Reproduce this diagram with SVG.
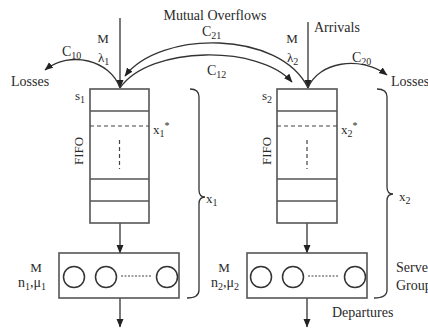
<svg xmlns="http://www.w3.org/2000/svg" width="428" height="328" viewBox="0 0 428 328">
<style>
text{font-family:"Liberation Serif","Times New Roman",serif;fill:#2a2a2a;font-size:14px}
.sm{font-size:13px}
.sub{font-size:10px}
.ln{stroke:#333;stroke-width:1.3;fill:none}
.box{stroke:#555;stroke-width:1.6;fill:#fff}
.dash{stroke:#444;stroke-width:1.2;stroke-dasharray:4 3;fill:none}
.dot{stroke:#444;stroke-width:1.2;stroke-dasharray:2 1.5;fill:none}
.circ{stroke:#333;stroke-width:1.5;fill:#fff}
</style>
<defs>
<marker id="ah" markerWidth="9" markerHeight="8" refX="8" refY="3.5" orient="auto" markerUnits="userSpaceOnUse">
<path d="M0,0 L8.5,3.5 L0,7 z" fill="#222"/>
</marker>
</defs>

<g id="connectors">
<line class="ln" x1="120" y1="18" x2="120" y2="88" marker-end="url(#ah)"/>
<line class="ln" x1="308" y1="22" x2="308" y2="88" marker-end="url(#ah)"/>
<path class="ln" d="M120,88 C110,60 70,50 45,70" marker-end="url(#ah)"/>
<path class="ln" d="M308,88 C318,62 360,55 387,75" marker-end="url(#ah)"/>
<path class="ln" d="M308,88 C280,30 160,30 125,76" marker-end="url(#ah)"/>
<path class="ln" d="M120,88 C150,45 260,45 292,82" marker-end="url(#ah)"/>
<line class="ln" x1="120" y1="223" x2="120" y2="253" marker-end="url(#ah)"/>
<line class="ln" x1="307" y1="223" x2="307" y2="253" marker-end="url(#ah)"/>
<line class="ln" x1="120" y1="298" x2="120" y2="327" marker-end="url(#ah)"/>
<line class="ln" x1="307" y1="298" x2="307" y2="327" marker-end="url(#ah)"/>
</g>

<g id="labels-top">
<text x="215" y="20" text-anchor="middle">Mutual Overflows</text>
<text x="202" y="36">C<tspan class="sub" dy="3">21</tspan></text>
<text x="207" y="75">C<tspan class="sub" dy="3">12</tspan></text>
<text x="314" y="32">Arrivals</text>
<text class="sm" x="103" y="43" text-anchor="middle">M</text>
<text class="sm" x="98" y="62">λ<tspan class="sub" dy="3">1</tspan></text>
<text class="sm" x="292" y="43" text-anchor="middle">M</text>
<text class="sm" x="287" y="62">λ<tspan class="sub" dy="3">2</tspan></text>
<text x="62" y="56">C<tspan class="sub" dy="3">10</tspan></text>
<text x="352" y="62">C<tspan class="sub" dy="3">20</tspan></text>
<text x="11" y="86">Losses</text>
<text x="391" y="86">Losses</text>
</g>

<g id="queue1">
<rect class="box" x="90" y="89" width="59" height="134"/>
<line class="box" x1="90" y1="111" x2="149" y2="111"/>
<line class="box" x1="90" y1="179" x2="149" y2="179"/>
<line class="box" x1="90" y1="201" x2="149" y2="201"/>
<line class="dash" x1="90" y1="126" x2="149" y2="126"/>
<line class="dash" x1="119.5" y1="140" x2="119.5" y2="169"/>
<text class="sm" x="75" y="100">s<tspan class="sub" dy="3">1</tspan></text>
<text class="sm" x="83" y="151" text-anchor="middle" transform="rotate(-90 83 151)">FIFO</text>
<text class="sm" x="153" y="134">x<tspan class="sub" dy="3">1</tspan><tspan class="sub" dy="-8">*</tspan></text>
</g>

<g id="queue2">
<rect class="box" x="277" y="89" width="60" height="134"/>
<line class="box" x1="277" y1="111" x2="337" y2="111"/>
<line class="box" x1="277" y1="179" x2="337" y2="179"/>
<line class="box" x1="277" y1="201" x2="337" y2="201"/>
<line class="dash" x1="277" y1="126" x2="337" y2="126"/>
<line class="dash" x1="307" y1="140" x2="307" y2="169"/>
<text class="sm" x="262" y="100">s<tspan class="sub" dy="3">2</tspan></text>
<text class="sm" x="271" y="151" text-anchor="middle" transform="rotate(-90 271 151)">FIFO</text>
<text class="sm" x="341" y="134">x<tspan class="sub" dy="3">2</tspan><tspan class="sub" dy="-8">*</tspan></text>
</g>

<g id="brace1">
<path class="ln" d="M190,89 Q199,89 199,97 L199,190 Q199,197 205,197 Q199,197 199,204 L199,290 Q199,298 187,298"/>
<text class="sm" x="206" y="203">x<tspan class="sub" dy="3">1</tspan></text>
</g>

<g id="brace2">
<path class="ln" d="M377,89 Q387,89 387,97 L387,187 Q387,194 393,194 Q387,194 387,201 L387,290 Q387,298 374,298"/>
<text class="sm" x="399" y="201">x<tspan class="sub" dy="3">2</tspan></text>
</g>

<g id="server1">
<rect class="box" x="59" y="253" width="120" height="45"/>
<circle class="circ" cx="74" cy="277" r="10.5"/>
<circle class="circ" cx="106" cy="277" r="10.5"/>
<circle class="circ" cx="167" cy="277" r="10.5"/>
<line class="dot" x1="121" y1="276" x2="151" y2="276"/>
<text class="sm" x="36" y="272" text-anchor="middle">M</text>
<text x="18" y="287">n<tspan class="sub" dy="3">1</tspan><tspan dy="-3">,μ</tspan><tspan class="sub" dy="3">1</tspan></text>
</g>

<g id="server2">
<rect class="box" x="247" y="253" width="120" height="45"/>
<circle class="circ" cx="261" cy="277" r="10.5"/>
<circle class="circ" cx="293" cy="277" r="10.5"/>
<circle class="circ" cx="355" cy="277" r="10.5"/>
<line class="dot" x1="308" y1="276" x2="339" y2="276"/>
<text class="sm" x="224" y="272" text-anchor="middle">M</text>
<text x="211" y="287">n<tspan class="sub" dy="3">2</tspan><tspan dy="-3">,μ</tspan><tspan class="sub" dy="3">2</tspan></text>
<text x="396" y="272">Server</text>
<text x="396" y="290">Groups</text>
<text x="332" y="317">Departures</text>
</g>
</svg>
